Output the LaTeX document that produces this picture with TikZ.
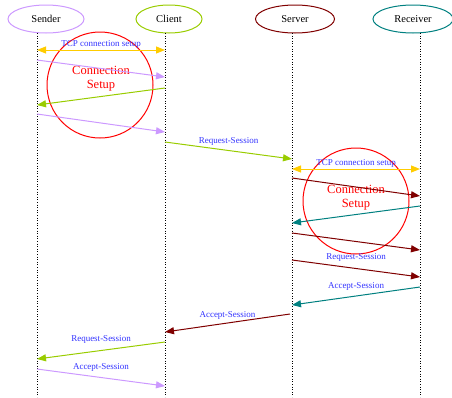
\documentclass[tikz,border=0pt]{standalone}
\usepackage{fontspec}
\setmainfont{Liberation Serif}
\usetikzlibrary{shapes.geometric,arrows.meta}
\definecolor{cpurple}{RGB}{204,153,255}
\definecolor{cgreen}{RGB}{153,204,0}
\definecolor{cyellow}{RGB}{255,204,0}
\definecolor{cdred}{RGB}{128,0,0}
\definecolor{cteal}{RGB}{0,128,128}
\definecolor{cblue}{RGB}{51,51,255}
\tikzset{
  actor/.style={ellipse, draw, line width=1pt, minimum width=76pt, minimum height=28pt, inner sep=0pt, font=\fontsize{10.5}{12}\selectfont},
  lifeline/.style={dotted, line width=0.6pt, black},
  msg/.style={line width=1pt, -{Triangle[length=9pt,width=7pt]}},
  dmsg/.style={line width=1pt, {Triangle[length=9pt,width=7pt]}-{Triangle[length=9pt,width=7pt]}},
  lbl/.style={midway, anchor=center, inner sep=0pt, text=cblue, font=\fontsize{9}{10}\selectfont},
  setupcircle/.style={draw=red, line width=1pt},
  setuptext/.style={text=red, align=center, font=\fontsize{12.5}{14}\selectfont}
}
\begin{document}
\begin{tikzpicture}[x=1pt,y=-1pt]
\useasboundingbox (0,0) rectangle (452,397);
% actors
\node[actor, draw=cpurple] (sender) at (46,19) {Sender};
\node[actor, draw=cgreen, minimum width=66pt] (client) at (169,19) {Client};
\node[actor, draw=cdred, minimum width=79pt] (server) at (295,19) {Server};
\node[actor, draw=cteal, minimum width=80pt] (receiver) at (413,19) {Receiver};
% lifelines
\coordinate (sT) at (37,33); \coordinate (sB) at (37,397);
\coordinate (cT) at (165,33); \coordinate (cB) at (165,397);
\coordinate (vT) at (292,33); \coordinate (vB) at (292,397);
\coordinate (rT) at (420,33); \coordinate (rB) at (420,397);
\draw[lifeline] (sT) -- (sB);
\draw[lifeline] (cT) -- (cB);
\draw[lifeline] (vT) -- (vB);
\draw[lifeline] (rT) -- (rB);
% circles
\draw[setupcircle] (100,85) circle[radius=53pt];
\node[setuptext] (cs1) at (101,79) {Connection\\Setup};
\draw[setupcircle] (356,201) circle[radius=53pt];
\node[setuptext] (cs2) at (356,198) {Connection\\Setup};
% message points
\coordinate (s1) at (37,50);  \coordinate (c1) at (165,50);
\coordinate (s2) at (37,60);  \coordinate (c2) at (165,77);
\coordinate (c3) at (165,88); \coordinate (s3) at (37,105);
\coordinate (s4) at (37,114); \coordinate (c4) at (165,132);
\coordinate (c5) at (165,142); \coordinate (v5) at (292,159);
\coordinate (v6) at (292,169); \coordinate (r6) at (420,169);
\coordinate (v7) at (292,178); \coordinate (r7) at (420,196);
\coordinate (r8) at (420,206); \coordinate (v8) at (292,223);
\coordinate (v9) at (292,233); \coordinate (r9) at (420,250);
\coordinate (v10) at (292,260); \coordinate (r10) at (420,277);
\coordinate (r11) at (420,287); \coordinate (v11) at (292,305);
\coordinate (v12) at (290,314); \coordinate (c12) at (165,332);
\coordinate (c13) at (165,342); \coordinate (s13) at (37,359);
\coordinate (s14) at (37,369); \coordinate (c14) at (165,386);
% messages
\draw[dmsg, cyellow] (s1) -- (c1) node[lbl, yshift=5.5pt] {TCP connection setup};
\draw[msg, cpurple] (s2) -- (c2);
\draw[msg, cgreen] (c3) -- (s3);
\draw[msg, cpurple] (s4) -- (c4);
\draw[msg, cgreen] (c5) -- (v5) node[lbl, yshift=9pt] {Request-Session};
\draw[dmsg, cyellow] (v6) -- (r6) node[lbl, yshift=6pt] {TCP connection setup};
\draw[msg, cdred] (v7) -- (r7);
\draw[msg, cteal] (r8) -- (v8);
\draw[msg, cdred] (v9) -- (r9);
\draw[msg, cdred] (v10) -- (r10) node[lbl, yshift=11pt] {Request-Session};
\draw[msg, cteal] (r11) -- (v11) node[lbl, yshift=10pt] {Accept-Session};
\draw[msg, cdred] (v12) -- (c12) node[lbl, yshift=8pt] {Accept-Session};
\draw[msg, cgreen] (c13) -- (s13) node[lbl, yshift=11pt] {Request-Session};
\draw[msg, cpurple] (s14) -- (c14) node[lbl, yshift=10pt] {Accept-Session};
\end{tikzpicture}
\end{document}
